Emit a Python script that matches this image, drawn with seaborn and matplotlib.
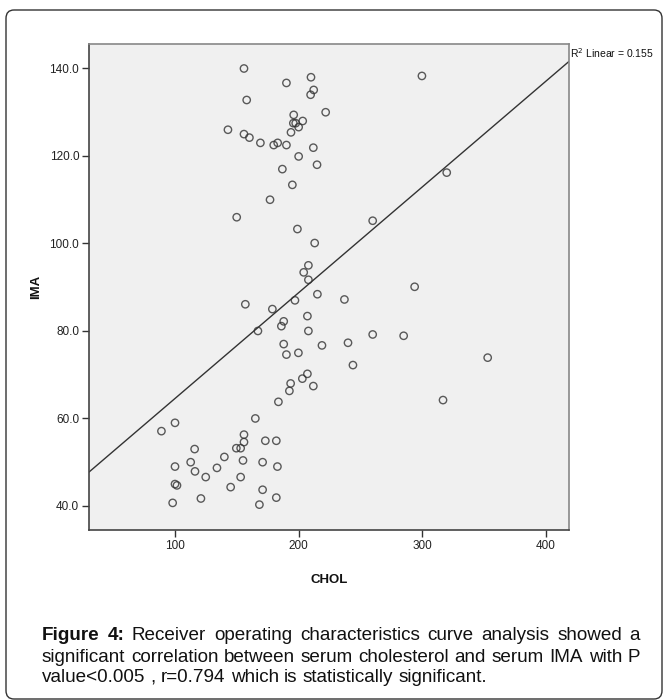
import matplotlib
matplotlib.use("Agg")
import matplotlib.pyplot as plt
import seaborn as sns
import pandas as pd
from matplotlib.patches import FancyBboxPatch

chol = [155.6, 209.9, 190.0, 212.1, 209.6, 157.8, 221.8, 195.9, 203.2, 195.6, 197.5, 199.9,
        142.6, 193.7, 155.6, 160.0, 168.9, 179.7, 182.9, 190.0, 211.8, 199.9, 214.8, 186.7,
        194.8, 176.7, 149.7, 198.9, 212.9, 207.8, 204.0, 207.8,
        299.8, 319.9, 259.9, 293.9,
        156.7, 215.1, 178.6, 196.9, 207.0, 187.8, 185.9, 166.9, 207.8, 218.8, 187.8, 190.0,
        199.7, 207.0, 202.9, 193.4, 192.4, 211.8, 183.5, 164.8, 99.7, 88.7, 155.6, 155.6,
        172.9, 181.8, 115.6, 149.4, 152.9, 139.7, 112.4, 170.7, 154.8, 99.7, 182.7, 133.7,
        115.9, 124.6, 152.9, 99.7, 101.3, 144.8, 170.7, 120.7, 181.8, 97.8, 168.1,
        237.0, 259.9, 285.0, 239.9, 353.1, 243.9, 316.9]
ima = [140.0, 138.0, 136.7, 135.1, 134.0, 132.8, 130.0, 129.4, 128.0, 127.5, 127.5, 126.6,
       126.0, 125.4, 125.0, 124.2, 123.0, 122.5, 123.0, 122.5, 121.9, 119.9, 118.0, 117.0,
       113.4, 110.0, 106.0, 103.3, 100.1, 95.0, 93.4, 91.7,
       138.3, 116.2, 105.2, 90.1,
       86.1, 88.4, 85.0, 87.0, 83.4, 82.2, 81.1, 80.0, 80.0, 76.7, 77.0, 74.6,
       75.0, 70.2, 69.1, 68.0, 66.3, 67.4, 63.8, 60.0, 59.0, 57.1, 56.3, 54.6,
       54.9, 54.9, 53.0, 53.2, 53.2, 51.2, 50.0, 50.0, 50.4, 49.0, 49.0, 48.7,
       47.9, 46.6, 46.6, 45.0, 44.7, 44.3, 43.7, 41.7, 41.9, 40.7, 40.3,
       87.2, 79.2, 78.9, 77.3, 73.9, 72.2, 64.2]

x_ticks = [100, 200, 300, 400]
y_ticks = [40.0, 60.0, 80.0, 100.0, 120.0, 140.0]
x_label = "CHOL"
y_label = "IMA"
r2_text = "R$^2$ Linear = 0.155"
caption_lines = [
    [("Figure 4:", "bold"), ("Receiver operating characteristics curve analysis showed a", "normal")],
    [("significant correlation between serum cholesterol and serum IMA with P", "normal")],
    [("value<0.005 , r=0.794 which is statistically significant.", "normal")],
]

sns.set_theme(style="white")
plt.rcParams["font.family"] = ["Liberation Sans", "DejaVu Sans"]

df = pd.DataFrame({"CHOL": chol, "IMA": ima})

W, H = 665, 700
fig = plt.figure(figsize=(W / 100, H / 100), dpi=100)
ax = fig.add_axes([89 / W, 1 - 530 / H, (569 - 89) / W, (530 - 44) / H])
ax.set_facecolor("#f0f0f0")
ax.set_xlim(30, 419)
ax.set_ylim(34.5, 145.6)

sns.regplot(data=df, x="CHOL", y="IMA", ax=ax, ci=None, truncate=False,
            scatter_kws=dict(s=28, facecolors="none", edgecolors="#333333", linewidths=1.0),
            line_kws=dict(color="#333333", lw=1.0))

ax.set_xlim(30, 419)
ax.set_ylim(34.5, 145.6)
ax.set_xticks(x_ticks)
ax.set_xticklabels([str(t) for t in x_ticks])
ax.set_yticks(y_ticks)
ax.set_yticklabels([f"{t:.1f}" for t in y_ticks])
ax.tick_params(axis="both", which="both", direction="out", length=5, width=1,
               color="#333333", labelsize=8.5, pad=2, labelcolor="#222222",
               bottom=True, left=True)
for s in ax.spines.values():
    s.set_color("#888888")
    s.set_linewidth(1.2)
ax.spines["left"].set_color("#444444")
ax.spines["bottom"].set_color("#444444")
ax.set_xlabel(x_label, fontsize=9.5, fontweight="bold", labelpad=16, color="#111111")
ax.set_ylabel(y_label, fontsize=9.5, fontweight="bold", labelpad=5, color="#111111")

fig.text(570 / W, 1 - 53 / H, r2_text, fontsize=7.5, va="center", ha="left", color="#111111")

# outer rounded border
box = FancyBboxPatch((6 / W, 1 / H), (662 - 6) / W, (690 - 1) / H,
                     boxstyle="round,pad=0,rounding_size=0.012",
                     transform=fig.transFigure, fill=False, edgecolor="#333333", lw=1.0)
fig.patches.append(box)

# justified caption
renderer = fig.canvas.get_renderer()
x_left, x_right = 42, 640
line_y = [636, 657, 678]
fs = 13.6


def text_width(s, weight="normal"):
    t = fig.text(0, 0, s, fontsize=fs, fontweight=weight)
    w = t.get_window_extent(renderer).width
    t.remove()
    return w


space_w = text_width("a a") - text_width("aa")
for li, (segs, ly) in enumerate(zip(caption_lines, line_y)):
    words = []
    for text, weight in segs:
        for w in text.split(" "):
            words.append((w, weight))
    objs = []
    for w, weight in words:
        t = fig.text(0, 1 - ly / H, w, fontsize=fs, fontweight=weight, va="center",
                     ha="left", color="#111111")
        objs.append(t)
    widths = [o.get_window_extent(renderer).width for o in objs]
    if li < len(caption_lines) - 1:
        gap = (x_right - x_left - sum(widths)) / (len(objs) - 1)
    else:
        gap = space_w
    x = x_left
    for o, wdt in zip(objs, widths):
        o.set_x(x / W)
        x += wdt + gap

fig.savefig("out.png", dpi=100)
